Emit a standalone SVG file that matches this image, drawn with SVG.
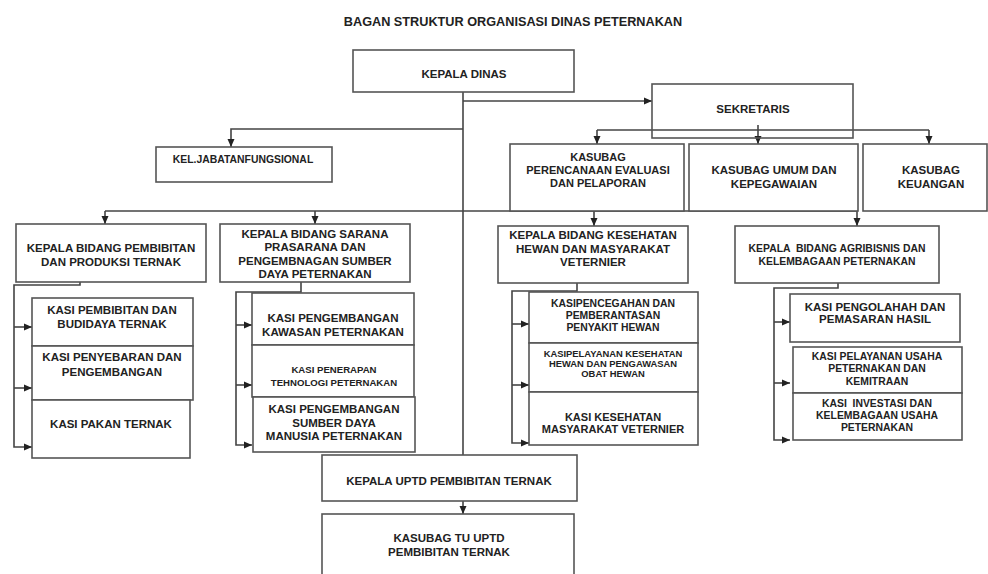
<svg xmlns="http://www.w3.org/2000/svg" width="988" height="574" viewBox="0 0 988 574">
<defs>
<marker id="arr" viewBox="0 0 8 8" refX="8" refY="4" markerWidth="8" markerHeight="8" markerUnits="userSpaceOnUse" orient="auto">
<path d="M0,0.5 L8,4 L0,7.5 z" fill="#222"/>
</marker>
<style>
.box{fill:#fff;stroke:#555;stroke-width:1.6}
.ln{fill:none;stroke:#444;stroke-width:1.6}
.a{marker-end:url(#arr)}
text{font-family:"Liberation Sans",Arial,sans-serif;font-weight:bold;fill:#222;text-anchor:middle}
.ti{font-size:12.7px}
.t{font-size:11.5px}
.m{font-size:11px}
.s{font-size:10.4px}
.r{font-size:9.6px}
.xs{font-size:9.4px}
</style>
</defs>
<rect width="988" height="574" fill="#fff"/>
<text class="ti" x="513" y="26">BAGAN STRUKTUR ORGANISASI DINAS PETERNAKAN</text>

<g id="connectors">
<path class="ln" d="M463,92 V455"/>
<path class="ln a" d="M463,101 H652"/>
<path class="ln a" d="M463,129 H231 V147"/>
<path class="ln" d="M597,130 H929"/>
<path class="ln a" d="M597,130 V144"/>
<path class="ln a" d="M929,130 V144"/>
<path class="ln a" d="M758,125 V144"/>
<path class="ln" d="M105,211 H857"/>
<path class="ln a" d="M105,211 V224"/>
<path class="ln a" d="M315,211 V224"/>
<path class="ln a" d="M594,211 V226"/>
<path class="ln a" d="M857,211 V226"/>
<path class="ln a" d="M80,282 V285 H14 V447 H32"/>
<path class="ln a" d="M14,327 H32"/>
<path class="ln a" d="M14,388 H32"/>
<path class="ln a" d="M301,282 V292 H236 V445 H252"/>
<path class="ln a" d="M236,325 H252"/>
<path class="ln a" d="M236,385 H252"/>
<path class="ln a" d="M577,283 V291 H512 V443 H529"/>
<path class="ln a" d="M512,324 H529"/>
<path class="ln a" d="M512,385 H529"/>
<path class="ln a" d="M838,283 V288 H774 V440 H790"/>
<path class="ln a" d="M774,322 H790"/>
<path class="ln a" d="M774,383 H790"/>
<path class="ln a" d="M463,501 V514"/>
</g>

<g id="kepala-dinas"><rect class="box" x="353" y="50" width="221" height="42"/><text class="t" x="464" y="78">KEPALA DINAS</text></g>
<g id="sekretaris"><rect class="box" x="652" y="84" width="201" height="54" style="fill:none"/><text class="t" x="753" y="113">SEKRETARIS</text></g>
<g id="kel-jabatan"><rect class="box" x="156" y="147" width="176" height="35"/><text class="s" x="243" y="163">KEL.JABATANFUNGSIONAL</text></g>

<g id="kasubag-perencanaan"><rect class="box" x="510" y="144" width="174" height="67"/>
<text class="m" x="598" y="161">KASUBAG</text><text class="m" x="598" y="174">PERENCANAAN EVALUASI</text><text class="m" x="598" y="187">DAN PELAPORAN</text></g>
<g id="kasubag-umum"><rect class="box" x="689" y="144" width="169" height="67"/>
<text class="t" x="774" y="174">KASUBAG UMUM DAN</text><text class="t" x="774" y="188">KEPEGAWAIAN</text></g>
<g id="kasubag-keuangan"><rect class="box" x="863" y="144" width="124" height="67"/>
<text class="t" x="931" y="174">KASUBAG</text><text class="t" x="931" y="188">KEUANGAN</text></g>

<g id="bidang-pembibitan"><rect class="box" x="16" y="224" width="190" height="58"/>
<text class="t" x="111" y="252">KEPALA BIDANG PEMBIBITAN</text><text class="t" x="111" y="266">DAN PRODUKSI TERNAK</text></g>
<g id="kasi-pembibitan"><rect class="box" x="32" y="298" width="161" height="48"/>
<text class="t" x="112" y="314">KASI PEMBIBITAN DAN</text><text class="t" x="112" y="328">BUDIDAYA TERNAK</text></g>
<g id="kasi-penyebaran"><rect class="box" x="32" y="346" width="161" height="54"/>
<text class="t" x="112" y="361">KASI PENYEBARAN DAN</text><text class="t" x="112" y="376">PENGEMBANGAN</text></g>
<g id="kasi-pakan"><rect class="box" x="32" y="400" width="158" height="58"/>
<text class="t" x="111" y="428">KASI PAKAN TERNAK</text></g>

<g id="bidang-sarana"><rect class="box" x="220" y="224" width="190" height="58"/>
<text class="t" x="315" y="238">KEPALA BIDANG SARANA</text><text class="t" x="315" y="251">PRASARANA DAN</text><text class="t" x="315" y="265">PENGEMBNAGAN SUMBER</text><text class="t" x="315" y="278">DAYA PETERNAKAN</text></g>
<g id="kasi-kawasan"><rect class="box" x="252" y="293" width="162" height="52"/>
<text class="t" x="333" y="322">KASI PENGEMBANGAN</text><text class="t" x="333" y="336">KAWASAN PETERNAKAN</text></g>
<g id="kasi-tehnologi"><rect class="box" x="252" y="345" width="162" height="52"/>
<text class="r" x="334" y="373">KASI PENERAPAN</text><text class="r" x="334" y="386">TEHNOLOGI PETERNAKAN</text></g>
<g id="kasi-sdm"><rect class="box" x="253" y="397" width="162" height="55"/>
<text class="t" x="334" y="413">KASI PENGEMBANGAN</text><text class="t" x="334" y="427">SUMBER DAYA</text><text class="t" x="334" y="440">MANUSIA PETERNAKAN</text></g>

<g id="bidang-kesehatan"><rect class="box" x="498" y="226" width="190" height="57"/>
<text class="t" x="593" y="239">KEPALA BIDANG KESEHATAN</text><text class="t" x="593" y="253">HEWAN DAN MASYARAKAT</text><text class="t" x="593" y="266">VETERNIER</text></g>
<g id="kasi-pencegahan"><rect class="box" x="529" y="292" width="169" height="51"/>
<text class="s" x="613" y="307">KASIPENCEGAHAN DAN</text><text class="s" x="613" y="319">PEMBERANTASAN</text><text class="s" x="613" y="331">PENYAKIT HEWAN</text></g>
<g id="kasi-pelayanan-kesehatan"><rect class="box" x="529" y="343" width="169" height="49"/>
<text class="xs" x="613" y="357">KASIPELAYANAN KESEHATAN</text><text class="xs" x="613" y="367">HEWAN DAN PENGAWASAN</text><text class="xs" x="613" y="377">OBAT HEWAN</text></g>
<g id="kasi-kesmavet"><rect class="box" x="529" y="392" width="169" height="53"/>
<text class="m" x="613" y="421">KASI KESEHATAN</text><text class="m" x="613" y="433">MASYARAKAT VETERNIER</text></g>

<g id="bidang-agribisnis"><rect class="box" x="735" y="226" width="204" height="57"/>
<text class="s" x="837" y="252" xml:space="preserve">KEPALA  BIDANG AGRIBISNIS DAN</text><text class="s" x="837" y="265">KELEMBAGAAN PETERNAKAN</text></g>
<g id="kasi-pengolahan"><rect class="box" x="790" y="294" width="170" height="48"/>
<text class="t" x="875" y="311">KASI PENGOLAHAH DAN</text><text class="t" x="875" y="323">PEMASARAN HASIL</text></g>
<g id="kasi-pelayanan-usaha"><rect class="box" x="793" y="347" width="169" height="46"/>
<text class="s" x="877" y="360">KASI PELAYANAN USAHA</text><text class="s" x="877" y="372">PETERNAKAN DAN</text><text class="s" x="877" y="385">KEMITRAAN</text></g>
<g id="kasi-investasi"><rect class="box" x="793" y="393" width="169" height="47"/>
<text class="s" x="877" y="407" xml:space="preserve">KASI  INVESTASI DAN</text><text class="s" x="877" y="419">KELEMBAGAAN USAHA</text><text class="s" x="877" y="431">PETERNAKAN</text></g>

<g id="uptd"><rect class="box" x="322" y="455" width="255" height="46"/><text class="t" x="449" y="485">KEPALA UPTD PEMBIBITAN TERNAK</text></g>
<g id="kasubag-tu"><rect class="box" x="322" y="514" width="252" height="70"/>
<text class="t" x="449" y="542">KASUBAG TU UPTD</text><text class="t" x="449" y="556">PEMBIBITAN TERNAK</text></g>
</svg>
